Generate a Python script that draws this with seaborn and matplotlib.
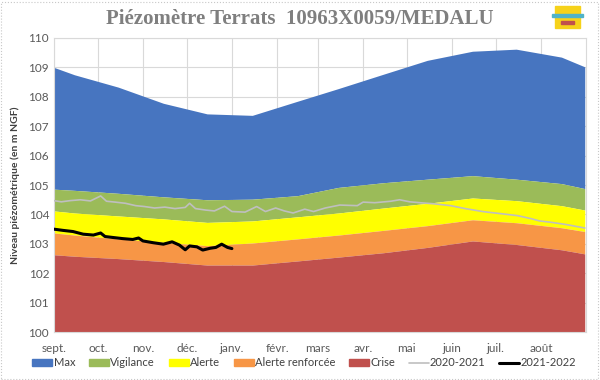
import matplotlib
matplotlib.use("Agg")
import matplotlib.pyplot as plt
from matplotlib.patches import Patch, Rectangle
from matplotlib.lines import Line2D
import seaborn as sns
import pandas as pd

# Jours depuis le 1er septembre
mois_jours = [0, 30, 61, 91, 122, 153, 181, 212, 242, 273, 303, 334]
mois_labels = ["sept.", "oct.", "nov.", "déc.", "janv.", "févr.", "mars",
               "avr.", "mai", "juin", "juil.", "août"]

# Seuils (milieu de mois + extrémités)
seuil_jours = [0, 14, 44, 75, 105, 136, 167, 195, 226, 256, 287, 317, 348, 364]
max_haut = [109.0, 108.75, 108.33, 107.78, 107.42, 107.37, 107.85, 108.28,
            108.77, 109.24, 109.55, 109.62, 109.35, 109.02]
vigilance_haut = [104.86, 104.82, 104.72, 104.6, 104.5, 104.52, 104.64, 104.92,
                  105.08, 105.2, 105.32, 105.2, 105.05, 104.88]
alerte_haut = [104.12, 104.05, 103.95, 103.85, 103.73, 103.78, 103.92, 104.05,
               104.22, 104.38, 104.56, 104.47, 104.3, 104.15]
renforcee_haut = [103.37, 103.3, 103.17, 103.05, 102.94, 103.03, 103.17, 103.3,
                  103.46, 103.62, 103.82, 103.72, 103.55, 103.42]
crise_haut = [102.63, 102.58, 102.5, 102.4, 102.28, 102.28, 102.42, 102.55,
              102.7, 102.88, 103.1, 102.98, 102.8, 102.66]

# Chroniques
jours_2021 = [0, 5, 11, 18, 25, 32, 36, 42, 49, 56, 62, 69, 76, 83, 90, 93, 97,
              104, 110, 117, 122, 131, 139, 145, 152, 158, 164, 172, 178, 186,
              196, 208, 212, 220, 231, 237, 244, 251, 261, 272, 282, 294, 299,
              306, 318, 327, 333, 340, 351, 364]
niveau_2021 = [104.47, 104.43, 104.47, 104.5, 104.46, 104.63, 104.45, 104.42,
               104.38, 104.3, 104.27, 104.22, 104.25, 104.2, 104.24, 104.38,
               104.2, 104.15, 104.12, 104.28, 104.1, 104.08, 104.27, 104.1,
               104.22, 104.12, 104.05, 104.18, 104.1, 104.22, 104.32, 104.3,
               104.42, 104.4, 104.45, 104.5, 104.43, 104.4, 104.36, 104.3,
               104.2, 104.1, 104.07, 104.03, 103.96, 103.86, 103.78, 103.74,
               103.66, 103.54]
jours_2022 = [0, 6, 13, 20, 27, 32, 35, 40, 47, 54, 58, 61, 68, 75, 81, 86, 90,
              93, 98, 102, 107, 111, 115, 119, 122]
niveau_2022 = [103.5, 103.46, 103.42, 103.33, 103.3, 103.37, 103.25, 103.22,
               103.18, 103.15, 103.2, 103.1, 103.04, 102.99, 103.07, 102.96,
               102.8, 102.93, 102.9, 102.79, 102.85, 102.88, 102.99, 102.88,
               102.84]

couleurs = {"Max": "#4775C0", "Vigilance": "#9BBB59", "Alerte": "#FFFF00",
            "Alerte renforcée": "#F79646", "Crise": "#C0504D"}

sns.set_theme(style="white")
plt.rcParams["font.family"] = ["Lato", "DejaVu Sans"]

seuils = pd.DataFrame({"jour": seuil_jours, "Max": max_haut,
                       "Vigilance": vigilance_haut, "Alerte": alerte_haut,
                       "Alerte renforcée": renforcee_haut, "Crise": crise_haut})

fig = plt.figure(figsize=(6, 3.8), dpi=100)
ax = fig.add_axes([0.09, 0.126, 0.887, 0.774])

noms = ["Max", "Vigilance", "Alerte", "Alerte renforcée", "Crise"]
for i, nom in enumerate(noms):
    bas = seuils[noms[i + 1]] if i + 1 < len(noms) else 100
    ax.fill_between(seuils["jour"], bas, seuils[nom], color=couleurs[nom],
                    lw=0, zorder=1)

sns.lineplot(x=jours_2021, y=niveau_2021, ax=ax, color="#BFBFBF", lw=1.2,
             zorder=3)
sns.lineplot(x=jours_2022, y=niveau_2022, ax=ax, color="black", lw=2.2,
             zorder=4)

ax.set_xlim(0, 365)
ax.set_ylim(100, 110)
ax.set_yticks(range(100, 111))
ax.set_xticks(mois_jours)
ax.set_xticklabels(mois_labels)
ax.tick_params(axis="both", length=0, labelsize=8.5, colors="#595959")
ax.tick_params(axis="x", pad=8)
ax.set_axisbelow(True)
ax.grid(True, color="#D9D9D9", lw=0.8)
for s in ax.spines.values():
    s.set_color("#D9D9D9")
    s.set_linewidth(0.8)
ax.set_ylabel("Niveau piézométrique (en m NGF)", fontsize=7.5,
              fontweight="bold", color="#404040", labelpad=6)

fig.suptitle("Piézomètre Terrats  10963X0059/MEDALU", x=0.5, y=0.975,
             fontsize=15, fontweight="bold", color="#7F7F7F",
             family=["Liberation Serif", "DejaVu Serif"])

handles = [Patch(color=couleurs[n], label=n) for n in noms]
handles += [Line2D([], [], color="#BFBFBF", lw=1.2, label="2020-2021"),
            Line2D([], [], color="black", lw=2.2, label="2021-2022")]
fig.legend(handles=handles, loc="center", bbox_to_anchor=(0.507, 0.045),
           ncol=7, frameon=False, fontsize=8, handlelength=1.8,
           handleheight=0.6, handletextpad=0.1, columnspacing=1.25,
           labelcolor="#404040")

# petit logo en haut à droite
fig.add_artist(Rectangle((0.925, 0.926), 0.042, 0.058, color="#F6D21A",
                         transform=fig.transFigure))
fig.add_artist(Rectangle((0.92, 0.955), 0.052, 0.008, color="#4FB3C8",
                         transform=fig.transFigure))
fig.add_artist(Rectangle((0.935, 0.936), 0.022, 0.01, color="#C0504D",
                         transform=fig.transFigure))
# cadre du graphique
fig.add_artist(Rectangle((0.002, 0.003), 0.995, 0.993, fill=False,
                         ec="#C8C8C8", ls=":", lw=0.8,
                         transform=fig.transFigure))

fig.savefig("out.png", dpi=100)
